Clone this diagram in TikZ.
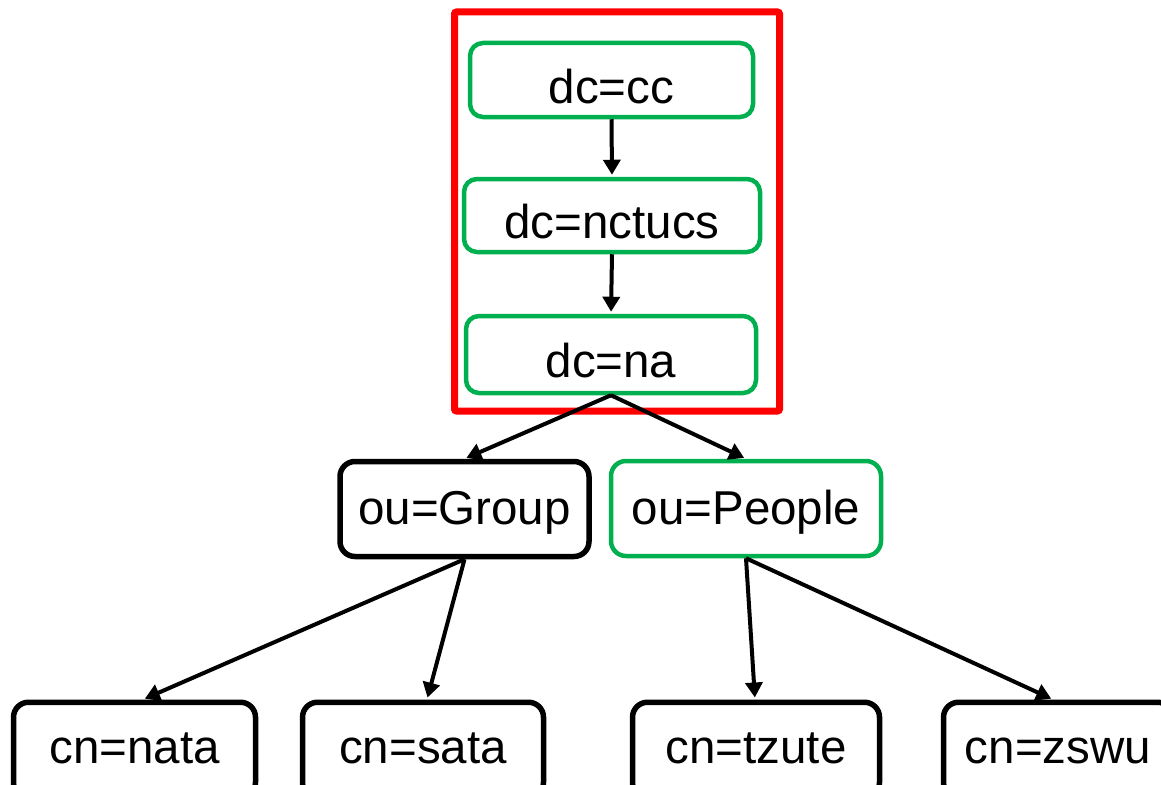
\documentclass[tikz,border=0pt]{standalone}
\usepackage{fontspec}
\setmainfont{Liberation Sans}
\usetikzlibrary{arrows.meta}
\definecolor{boxgreen}{HTML}{00B050}
\definecolor{scopered}{HTML}{FF0000}
\begin{document}
\begin{tikzpicture}[x=1pt,y=-1pt,
  every node/.style={font=\fontsize{47.5pt}{56pt}\selectfont, inner sep=0pt, text depth=0pt},
  scopebox/.style={draw=scopered, line width=7pt, rounded corners=2pt},
  dcbox/.style={draw=boxgreen, line width=4.5pt, rounded corners=13pt, text height=46pt},
  oubox/.style={line width=5.5pt, rounded corners=15pt, text height=31pt, minimum height=95pt},
  cnbox/.style={draw=black, line width=5.5pt, rounded corners=15pt, text height=28pt, minimum height=95pt},
  link/.style={line width=4pt, shorten >=2pt, -{Triangle[length=15pt,width=17pt]}}
]
\clip (0,0) rectangle (1161,784);
\useasboundingbox (0,0) rectangle (1161,784);

% naming context
\node[scopebox, minimum width=325pt, minimum height=399pt] (domain) at (617,211.5) {};

\node[dcbox, minimum width=283pt, minimum height=74pt] (cc) at (611.5,80) {dc=cc};
\node[dcbox, minimum width=296pt, minimum height=73pt] (nctucs) at (612,215.5) {dc=nctucs};
\node[dcbox, minimum width=290pt, minimum height=77pt] (na) at (611,354.5) {dc=na};

% organisational units
\node[oubox, draw=black, minimum width=249pt] (grp) at (464.5,509) {ou=Group};
\node[oubox, draw=boxgreen, line width=4.5pt, minimum width=270pt] (ppl) at (746,508.5) {ou=People};

% entries
\node[cnbox, minimum width=242pt] (nata) at (134.5,749.75) {cn=nata};
\node[cnbox, minimum width=241pt] (sata) at (423,749.75) {cn=sata};
\node[cnbox, minimum width=247pt] (tzute) at (756,749.75) {cn=tzute};
\node[cnbox, minimum width=229pt] (zswu) at (1058,749.75) {cn=zswu};

\draw[link] (cc.south) -- (nctucs.north);
\draw[link] (nctucs.south) -- (na.north);
\draw[link] (na.south) -- (grp.north);
\draw[link] (na.south) -- (ppl.north);
\draw[link] (grp.south) -- ([xshift=8.5pt]nata.north);
\draw[link] (grp.south) -- ([xshift=4pt]sata.north);
\draw[link] (ppl.south) -- ([xshift=-1pt]tzute.north);
\draw[link] (ppl.south) -- ([xshift=-5pt]zswu.north);
\end{tikzpicture}
\end{document}
